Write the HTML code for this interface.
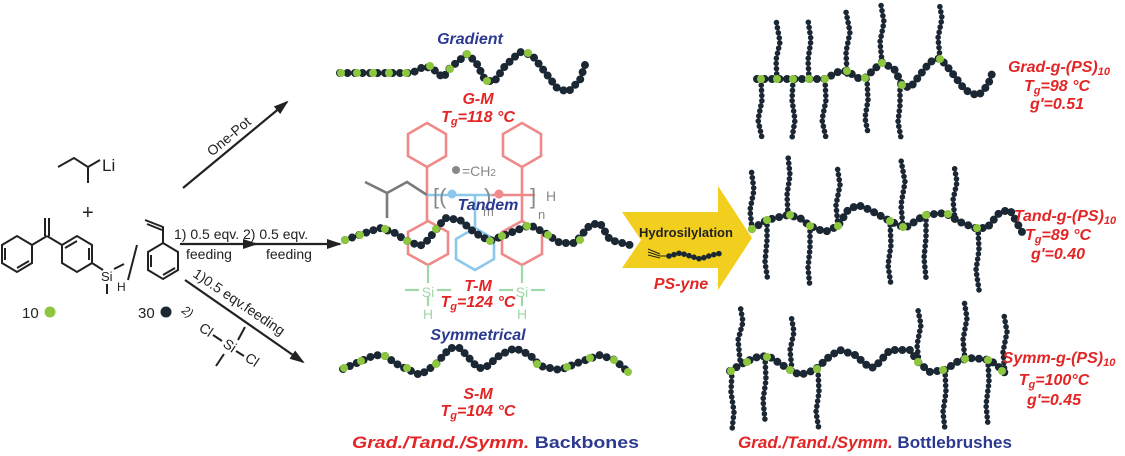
<!DOCTYPE html>
<html><head><meta charset="utf-8"><style>
html,body{margin:0;padding:0;background:#fff;width:1125px;height:456px;overflow:hidden}
svg{display:block}
.t{font-family:"Liberation Sans",sans-serif}
.bi{font-family:"Liberation Sans",sans-serif;font-weight:bold;font-style:italic}
.red{fill:#e32526}.blue{fill:#2b3990}
.bb{fill:none;stroke:#1b2733;stroke-width:8;stroke-linecap:round;stroke-dasharray:0 7.5;stroke-linejoin:round}
.sc{fill:none;stroke:#1b2733;stroke-width:5.6;stroke-linecap:round;stroke-dasharray:0 5.2;stroke-linejoin:round}
.g{fill:#8dc63f}
.ln{stroke:#222;stroke-width:2;fill:none}
.pk{stroke:#f08a8a;stroke-width:2.6;fill:none}
.bl{stroke:#8cc8ec;stroke-width:2.6;fill:none}
.gy{stroke:#7a7a7a;stroke-width:2.6;fill:none}
.gn{stroke:#9fd8a8;stroke-width:2.2;fill:none}
</style></head><body>
<svg width="1125" height="456" viewBox="0 0 1125 456" xmlns="http://www.w3.org/2000/svg">
<defs>
<marker id="ah" markerWidth="16" markerHeight="10" refX="13" refY="5" orient="auto" markerUnits="userSpaceOnUse"><path d="M0,0 L15,5 L0,10 z" fill="#222"/></marker>
</defs>

<!-- left reagents -->
<polyline class="ln" points="58,167 74,158 88,167 88,183"/><line class="ln" x1="88" y1="167" x2="100" y2="160"/>
<text x="102" y="171" class="t" font-size="17" fill="#222">Li</text>
<text x="82" y="219" class="t" font-size="20" fill="#222">+</text>
<line class="ln" x1="45" y1="218" x2="45" y2="236"/><line class="ln" x1="49" y1="218" x2="49" y2="236"/>
<polyline class="ln" points="47,236 32,245"/><polyline class="ln" points="47,236 62,245"/>
<polygon class="ln" points="32,245 32,263 17,272 2,263 2,245 17,236"/>
<line class="ln" x1="5" y1="248" x2="5" y2="260"/><line class="ln" x1="17" y1="268" x2="29" y2="261"/>
<polygon class="ln" points="62,245 77,236 92,245 92,263 77,272 62,263"/>
<line class="ln" x1="65" y1="248" x2="77" y2="241"/><line class="ln" x1="89" y1="248" x2="89" y2="260"/>
<line class="ln" x1="92" y1="263" x2="103" y2="270"/>
<text x="101" y="281" class="t" font-size="13" fill="#222">Si</text>
<line class="ln" x1="114" y1="269" x2="124" y2="264"/><line class="ln" x1="107" y1="284" x2="107" y2="294"/>
<text x="117" y="291" class="t" font-size="12" fill="#222">H</text>
<line class="ln" x1="128" y1="280" x2="137" y2="245"/>
<polyline class="ln" points="145,220 163,227 163,243"/><line class="ln" x1="147" y1="224" x2="162" y2="230"/>
<polygon class="ln" points="163,243 178,252 178,270 163,279 148,270 148,252"/>
<line class="ln" x1="151" y1="255" x2="151" y2="267"/><line class="ln" x1="163" y1="275" x2="175" y2="268"/>
<text x="22" y="318" class="t" font-size="15" fill="#222">10</text><circle cx="50" cy="312" r="5.5" class="g"/>
<text x="138" y="318" class="t" font-size="15" fill="#222">30</text><circle cx="166" cy="312" r="5.5" fill="#1b2733"/>

<!-- arrows -->
<line x1="183" y1="188" x2="287" y2="102" stroke="#222" stroke-width="2.2" marker-end="url(#ah)"/>
<text transform="translate(232,140) rotate(-40)" class="t" font-size="14" fill="#222" text-anchor="middle">One-Pot</text>
<line x1="180" y1="244" x2="256" y2="244" stroke="#222" stroke-width="2.2" marker-end="url(#ah)"/>
<line x1="250" y1="244" x2="340" y2="244" stroke="#222" stroke-width="2.2" marker-end="url(#ah)"/>
<text x="174" y="239" class="t" font-size="14" fill="#222">1) 0.5 eqv. 2) 0.5 eqv.</text>
<text x="186" y="259" class="t" font-size="14" fill="#222">feeding</text>
<text x="266" y="259" class="t" font-size="14" fill="#222">feeding</text>
<line x1="185" y1="280" x2="303" y2="362" stroke="#222" stroke-width="2.2" marker-end="url(#ah)"/>
<text transform="translate(192,276) rotate(34)" class="t" font-size="14" fill="#222">1)0.5 eqv.feeding</text>
<text transform="translate(181,312) rotate(34)" class="t" font-size="12" font-style="italic" fill="#222">2)</text>
<text transform="translate(198,330) rotate(34)" class="t" font-size="14" fill="#222">Cl</text>
<text transform="translate(222,346) rotate(34)" class="t" font-size="14" fill="#222">Si</text>
<text transform="translate(244,360) rotate(34)" class="t" font-size="14" fill="#222">Cl</text>
<line class="ln" x1="213" y1="335" x2="222" y2="341"/><line class="ln" x1="236" y1="351" x2="244" y2="356"/>
<line class="ln" x1="245" y1="327" x2="238" y2="340"/><line class="ln" x1="224" y1="354" x2="216" y2="366"/>

<!-- center chemistry -->
<polygon class="pk" points="427,123 446,134 446,156 427,167 408,156 408,134"/>
<polygon class="pk" points="522,123 541,134 541,156 522,167 503,156 503,134"/>
<line class="pk" x1="427" y1="167" x2="427" y2="221"/><line class="pk" x1="522" y1="167" x2="522" y2="221"/>
<polygon class="pk" points="428,221 448,232 448,254 428,265 408,254 408,232"/>
<polygon class="pk" points="522,221 542,232 542,254 522,265 502,254 502,232"/>
<polygon class="bl" points="475,228 494,239 494,259 475,270 456,259 456,239"/>
<line class="bl" x1="475" y1="195" x2="475" y2="228"/>
<line class="bl" x1="427" y1="195" x2="492" y2="195"/><circle cx="452" cy="194" r="4.5" fill="#8cc8ec"/>
<line class="pk" x1="492" y1="195" x2="535" y2="195"/><circle cx="499" cy="194" r="4.5" fill="#f08a8a"/>
<polyline class="gy" points="365,182 387,193 387,218"/><polyline class="gy" points="387,193 407,182 427,195"/>
<text x="433" y="204" class="t" font-size="22" fill="#888">[(</text>
<text x="484" y="204" class="t" font-size="22" fill="#888">)</text>
<text x="530" y="204" class="t" font-size="22" fill="#888">]</text>
<text x="538" y="219" class="t" font-size="13" fill="#888">n</text>
<text x="483" y="216" class="t" font-size="13" fill="#888">m</text>
<text x="546" y="201" class="t" font-size="14" fill="#888">H</text>
<circle cx="456" cy="170" r="4" fill="#888"/><text x="462" y="176" class="t" font-size="14" fill="#888">=CH<tspan font-size="10">2</tspan></text>
<line class="gn" x1="428" y1="265" x2="428" y2="283"/><line class="gn" x1="405" y1="290" x2="419" y2="290"/><line class="gn" x1="437" y1="290" x2="451" y2="290"/><line class="gn" x1="428" y1="296" x2="428" y2="306"/>
<text x="428" y="297" class="t" font-size="14" fill="#9fd8a8" text-anchor="middle">Si</text><text x="428" y="319" class="t" font-size="14" fill="#9fd8a8" text-anchor="middle">H</text>
<line class="gn" x1="522" y1="265" x2="522" y2="283"/><line class="gn" x1="499" y1="290" x2="513" y2="290"/><line class="gn" x1="531" y1="290" x2="545" y2="290"/><line class="gn" x1="522" y1="296" x2="522" y2="306"/>
<text x="522" y="297" class="t" font-size="14" fill="#9fd8a8" text-anchor="middle">Si</text><text x="522" y="319" class="t" font-size="14" fill="#9fd8a8" text-anchor="middle">H</text>

<!-- backbones -->
<text x="470" y="44" class="bi blue" font-size="16" text-anchor="middle">Gradient</text>
<polyline class="bb" points="340,73 412,73 425,66 436,71 443,78 450,68 467,54 476,62 485,80 494,82 505,66 520,52 532,55 545,72 557,88 568,92 580,80 585,65"/>
<g class="g"><circle cx="341" cy="73" r="4"/><circle cx="357" cy="73" r="4"/><circle cx="373" cy="73" r="4"/><circle cx="389" cy="73" r="4"/><circle cx="406" cy="73" r="4"/><circle cx="430" cy="66" r="4"/><circle cx="450" cy="69" r="4"/><circle cx="467" cy="54" r="4"/><circle cx="487" cy="81" r="4"/><circle cx="528" cy="53" r="4"/></g>
<text x="478" y="104" class="bi red" font-size="16" text-anchor="middle">G-M</text>
<text x="478" y="122" class="bi red" font-size="16" text-anchor="middle">T<tspan font-size="11" dy="3">g</tspan><tspan dy="-3">=118 °C</tspan></text>

<polyline class="bb" points="345,240 365,233 380,228 395,233 405,240 420,246 428,240 445,218 460,220 475,233 490,241 510,233 530,225 545,233 560,243 575,243 590,225 600,223 610,240 630,245"/>
<g class="g"><circle cx="345" cy="240" r="4"/><circle cx="360" cy="235" r="4"/><circle cx="385" cy="229" r="4"/><circle cx="407" cy="241" r="4"/><circle cx="436" cy="229" r="4"/><circle cx="490" cy="241" r="4"/><circle cx="502" cy="236" r="4"/><circle cx="527" cy="226" r="4"/><circle cx="548" cy="235" r="4"/><circle cx="580" cy="240" r="4"/></g>
<text x="488" y="210" class="bi blue" font-size="16" text-anchor="middle">Tandem</text>
<text x="478" y="291" class="bi red" font-size="16" text-anchor="middle">T-M</text>
<text x="478" y="307" class="bi red" font-size="16" text-anchor="middle">T<tspan font-size="11" dy="3">g</tspan><tspan dy="-3">=124 °C</tspan></text>
<text x="478" y="340" class="bi blue" font-size="16" text-anchor="middle">Symmetrical</text>

<polyline class="bb" points="343,369 375,355 385,356 400,366 420,375 435,365 450,348 460,348 478,368 485,368 500,355 515,348 530,355 540,366 560,370 580,362 600,355 615,360 628,372"/>
<g class="g"><circle cx="344" cy="368" r="4"/><circle cx="361" cy="361" r="4"/><circle cx="385" cy="356" r="4"/><circle cx="407" cy="368" r="4"/><circle cx="436" cy="364" r="4"/><circle cx="537" cy="364" r="4"/><circle cx="567" cy="367" r="4"/><circle cx="590" cy="358" r="4"/><circle cx="614" cy="360" r="4"/><circle cx="628" cy="372" r="4"/></g>
<text x="478" y="399" class="bi red" font-size="16" text-anchor="middle">S-M</text>
<text x="478" y="416" class="bi red" font-size="16" text-anchor="middle">T<tspan font-size="11" dy="3">g</tspan><tspan dy="-3">=104 °C</tspan></text>
<text x="352" y="448" class="bi red" font-size="17" textLength="287" lengthAdjust="spacingAndGlyphs">Grad./Tand./Symm.<tspan class="t blue" font-style="normal"> Backbones</tspan></text>

<!-- yellow arrow -->
<polygon points="622,212 718,212 718,186 752,238 718,290 718,268 622,268 641,240" fill="#f2cf1f"/>
<text x="686" y="237" class="t" font-size="13" font-weight="bold" fill="#222" text-anchor="middle">Hydrosilylation</text>
<line x1="648" y1="249" x2="660" y2="254" stroke="#222" stroke-width="1"/><line x1="648" y1="252" x2="660" y2="256" stroke="#222" stroke-width="1"/><line x1="648" y1="255" x2="660" y2="258" stroke="#222" stroke-width="1"/>
<line x1="660" y1="256" x2="667" y2="256" stroke="#222" stroke-width="1"/>
<polyline class="sc" points="669,256 680,253 690,256 700,259 712,255 722,253"/>
<text x="681" y="289" class="bi red" font-size="16" text-anchor="middle">PS-yne</text>

<!-- Grad brush -->
<g>
<polyline class="sc" points="777,79 776,60 780,42 776,20"/><polyline class="sc" points="809,79 808,60 811,40 808,20"/>
<polyline class="sc" points="847,74 846,52 850,32 846,12"/><polyline class="sc" points="882,62 880,42 884,22 881,5"/><polyline class="sc" points="940,58 938,38 942,18 939,2"/>
<polyline class="sc" points="761,80 762,100 758,120 762,138"/><polyline class="sc" points="793,80 792,100 795,120 792,138"/><polyline class="sc" points="825,80 826,100 822,120 826,138"/><polyline class="sc" points="867,79 868,100 865,118 868,133"/><polyline class="sc" points="900,85 900,105 898,122 901,138"/>
<polyline class="bb" points="757,79 825,79 838,72 847,71 858,78 865,78 882,62 895,70 902,85 910,88 930,62 940,58 950,70 965,90 978,96 988,85 994,68"/>
<g class="g"><circle cx="761" cy="79" r="4"/><circle cx="777" cy="79" r="4"/><circle cx="793" cy="79" r="4"/><circle cx="809" cy="79" r="4"/><circle cx="825" cy="79" r="4"/><circle cx="847" cy="71" r="4"/><circle cx="865" cy="78" r="4"/><circle cx="882" cy="63" r="4"/><circle cx="902" cy="85" r="4"/><circle cx="940" cy="59" r="4"/></g>
</g>
<text x="1059" y="72" class="bi red" font-size="16" text-anchor="middle">Grad-g-(PS)<tspan font-size="11" dy="3">10</tspan></text>
<text x="1057" y="91" class="bi red" font-size="16" text-anchor="middle">T<tspan font-size="11" dy="3">g</tspan><tspan dy="-3">=98 °C</tspan></text>
<text x="1057" y="109" class="bi red" font-size="16" text-anchor="middle">g'=0.51</text>

<!-- Tand brush -->
<g>
<polyline class="sc" points="752,229 750,210 754,190 751,168"/><polyline class="sc" points="788,215 787,195 790,175 788,156"/><polyline class="sc" points="838,226 836,205 840,185 837,165"/><polyline class="sc" points="903,228 901,205 905,182 901,160"/><polyline class="sc" points="955,220 953,200 957,182 954,165"/>
<polyline class="sc" points="767,220 767,240 765,262 768,282"/><polyline class="sc" points="810,226 810,248 808,268 810,288"/><polyline class="sc" points="890,220 891,245 888,265 891,285"/><polyline class="sc" points="926,215 926,238 924,258 926,278"/><polyline class="sc" points="978,228 979,250 976,270 979,290"/>
<polyline class="bb" points="752,229 767,220 788,215 800,218 810,226 825,232 838,226 848,210 858,205 870,210 888,220 905,228 925,215 945,213 960,222 975,228 987,228 1000,212 1010,210 1022,232"/>
<g class="g"><circle cx="752" cy="229" r="4"/><circle cx="767" cy="220" r="4"/><circle cx="790" cy="215" r="4"/><circle cx="810" cy="226" r="4"/><circle cx="838" cy="226" r="4"/><circle cx="890" cy="221" r="4"/><circle cx="903" cy="227" r="4"/><circle cx="926" cy="215" r="4"/><circle cx="948" cy="214" r="4"/><circle cx="977" cy="228" r="4"/></g>
</g>
<text x="1065" y="221" class="bi red" font-size="16" text-anchor="middle">Tand-g-(PS)<tspan font-size="11" dy="3">10</tspan></text>
<text x="1058" y="240" class="bi red" font-size="16" text-anchor="middle">T<tspan font-size="11" dy="3">g</tspan><tspan dy="-3">=89 °C</tspan></text>
<text x="1058" y="259" class="bi red" font-size="16" text-anchor="middle">g'=0.40</text>

<!-- Symm brush -->
<g>
<polyline class="sc" points="740,360 738,340 743,322 740,305"/><polyline class="sc" points="792,370 790,350 794,332 791,315"/><polyline class="sc" points="919,362 917,345 921,325 918,310"/><polyline class="sc" points="965,360 963,340 967,318 964,300"/><polyline class="sc" points="1005,373 1003,352 1007,332 1004,315"/>
<polyline class="sc" points="732,371 731,392 734,412 732,430"/><polyline class="sc" points="765,357 766,380 763,400 765,420"/><polyline class="sc" points="818,370 819,392 816,412 819,430"/><polyline class="sc" points="945,370 946,392 943,412 945,430"/><polyline class="sc" points="988,360 989,382 986,405 988,425"/>
<polyline class="bb" points="730,371 745,362 760,356 770,357 790,370 800,375 815,370 830,356 840,350 855,355 870,368 875,367 890,350 895,350 910,350 918,362 930,372 945,370 960,360 973,358 990,360 1000,368 1005,373"/>
<g class="g"><circle cx="731" cy="371" r="4"/><circle cx="747" cy="362" r="4"/><circle cx="767" cy="357" r="4"/><circle cx="790" cy="370" r="4"/><circle cx="817" cy="369" r="4"/><circle cx="918" cy="362" r="4"/><circle cx="943" cy="370" r="4"/><circle cx="965" cy="359" r="4"/><circle cx="988" cy="360" r="4"/><circle cx="1002" cy="371" r="4"/></g>
</g>
<text x="1059" y="363" class="bi red" font-size="16" text-anchor="middle">Symm-g-(PS)<tspan font-size="11" dy="3">10</tspan></text>
<text x="1054" y="385" class="bi red" font-size="16" text-anchor="middle">T<tspan font-size="11" dy="3">g</tspan><tspan dy="-3">=100°C</tspan></text>
<text x="1054" y="405" class="bi red" font-size="16" text-anchor="middle">g'=0.45</text>
<text x="738" y="448" class="bi red" font-size="17" textLength="274" lengthAdjust="spacingAndGlyphs">Grad./Tand./Symm.<tspan class="t blue" font-style="normal"> Bottlebrushes</tspan></text>
</svg>
</body></html>
